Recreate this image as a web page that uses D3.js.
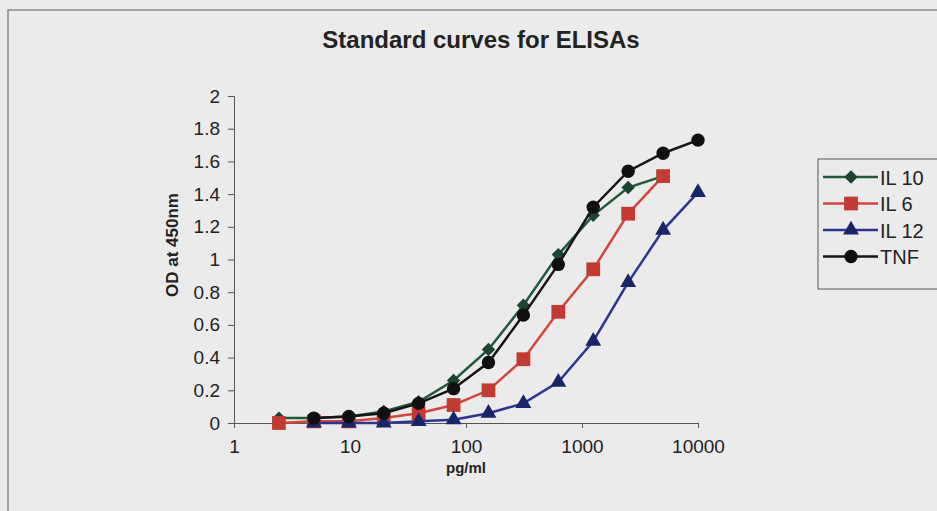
<!DOCTYPE html>
<html>
<head>
<meta charset="utf-8">
<script src="https://cdn.jsdelivr.net/npm/d3@7"></script>
<style>
  html, body { margin: 0; padding: 0; background: #ebebeb; }
  svg { display: block; font-family: "Liberation Sans", Arial, sans-serif; }
</style>
</head>
<body>
<svg id="chart" width="937" height="511"></svg>
<script>
// Serial two-fold dilutions of the standards (pg/ml)
const concentrations = [2.44, 4.88, 9.77, 19.53, 39.06, 78.13, 156.25, 312.5, 625, 1250, 2500, 5000, 10000];

// Optical density at 450 nm for each standard curve
const il10 = [0.03, 0.03, 0.04, 0.07, 0.13, 0.26, 0.45, 0.72, 1.03, 1.27, 1.44, 1.51, null];
const il6  = [0.00, 0.01, 0.01, 0.03, 0.06, 0.11, 0.20, 0.39, 0.68, 0.94, 1.28, 1.51, null];
const il12 = [null, 0.00, 0.00, 0.00, 0.01, 0.02, 0.06, 0.12, 0.25, 0.50, 0.86, 1.18, 1.41];
const tnf  = [null, 0.03, 0.04, 0.06, 0.12, 0.21, 0.37, 0.66, 0.97, 1.32, 1.54, 1.65, 1.73];

const seriesNames = ["IL 10", "IL 6", "IL 12", "TNF"];
const xTicks = [1, 10, 100, 1000, 10000];
const yTicks = [0, 0.2, 0.4, 0.6, 0.8, 1, 1.2, 1.4, 1.6, 1.8, 2];

// square turned 45 degrees
const rhombus = {
  draw(context, size) {
    const r = Math.sqrt(size / 2);
    context.moveTo(0, -r);
    context.lineTo(r, 0);
    context.lineTo(0, r);
    context.lineTo(-r, 0);
    context.closePath();
  }
};

const series = [
  { name: seriesNames[0], values: il10, line: "#1f5a3c", fill: "#1c4430", shape: rhombus,          size: 90 },
  { name: seriesNames[1], values: il6,  line: "#d2453b", fill: "#c23b32", shape: d3.symbolSquare,  size: 190 },
  { name: seriesNames[2], values: il12, line: "#2d3590", fill: "#1b2466", shape: d3.symbolTriangle, size: 110 },
  { name: seriesNames[3], values: tnf,  line: "#151515", fill: "#101010", shape: d3.symbolCircle,  size: 140 }
];

const svg = d3.select("#chart");

// outer frame
svg.append("rect").attr("x", 8).attr("y", 10).attr("width", 960).attr("height", 520)
  .attr("fill", "#ebebeb").attr("stroke", "#8a8a8a").attr("stroke-width", 1.5);

const x = d3.scaleLog().domain([1, 10000]).range([234, 698]);
const y = d3.scaleLinear().domain([0, 2]).range([423, 96]);

// title
svg.append("text").attr("x", 481).attr("y", 48).attr("text-anchor", "middle")
  .attr("font-weight", "bold").attr("font-size", 24).attr("fill", "#222")
  .text("Standard curves for ELISAs");

// y axis
const yAxis = d3.axisLeft(y).tickValues(yTicks).tickSize(6).tickPadding(8)
  .tickFormat(d => d3.format("~g")(d));
const gy = svg.append("g").attr("transform", "translate(234,0)").call(yAxis);
gy.selectAll("text").attr("font-size", 19).attr("fill", "#222");

// x axis
const xAxis = d3.axisBottom(x).tickValues(xTicks).tickSize(5).tickPadding(12)
  .tickFormat(d3.format("d"));
const gx = svg.append("g").attr("transform", "translate(0,423)").call(xAxis);
gx.selectAll("text").attr("font-size", 19).attr("fill", "#222");

[gx, gy].forEach(g => {
  g.select(".domain").attr("stroke", "#555").attr("stroke-width", 1);
  g.selectAll(".tick line").attr("stroke", "#555").attr("stroke-width", 1);
});

// axis titles
svg.append("text").attr("x", 466).attr("y", 473).attr("text-anchor", "middle")
  .attr("font-weight", "bold").attr("font-size", 15).attr("fill", "#222").text("pg/ml");
svg.append("text").attr("transform", "translate(178,245) rotate(-90)").attr("text-anchor", "middle")
  .attr("font-weight", "bold").attr("font-size", 17).attr("fill", "#222").text("OD at 450nm");

// curves
const lineGen = d3.line()
  .defined(d => d.v !== null)
  .x(d => x(d.c)).y(d => y(d.v));

series.forEach(s => {
  const pts = concentrations.map((c, i) => ({ c, v: s.values[i] }));
  svg.append("path").datum(pts)
    .attr("d", lineGen).attr("fill", "none")
    .attr("stroke", s.line).attr("stroke-width", 2.5);
  svg.append("g").selectAll("path")
    .data(pts.filter(d => d.v !== null))
    .join("path")
    .attr("transform", d => `translate(${x(d.c)},${y(d.v)})`)
    .attr("d", d3.symbol().type(s.shape).size(s.size))
    .attr("fill", s.fill);
});

// legend
const legend = svg.append("g");
legend.append("rect").attr("x", 818).attr("y", 159).attr("width", 140).attr("height", 130)
  .attr("fill", "#ebebeb").attr("stroke", "#555").attr("stroke-width", 1);
series.forEach((s, i) => {
  const ly = 177 + i * 26.5;
  legend.append("line").attr("x1", 823).attr("x2", 878).attr("y1", ly).attr("y2", ly)
    .attr("stroke", s.line).attr("stroke-width", 2.5);
  legend.append("path").attr("transform", `translate(851,${ly})`)
    .attr("d", d3.symbol().type(s.shape).size(s.size)).attr("fill", s.fill);
  legend.append("text").attr("x", 880).attr("y", ly + 7.5).attr("font-size", 20)
    .attr("fill", "#222").text(s.name);
});
</script>
</body>
</html>
